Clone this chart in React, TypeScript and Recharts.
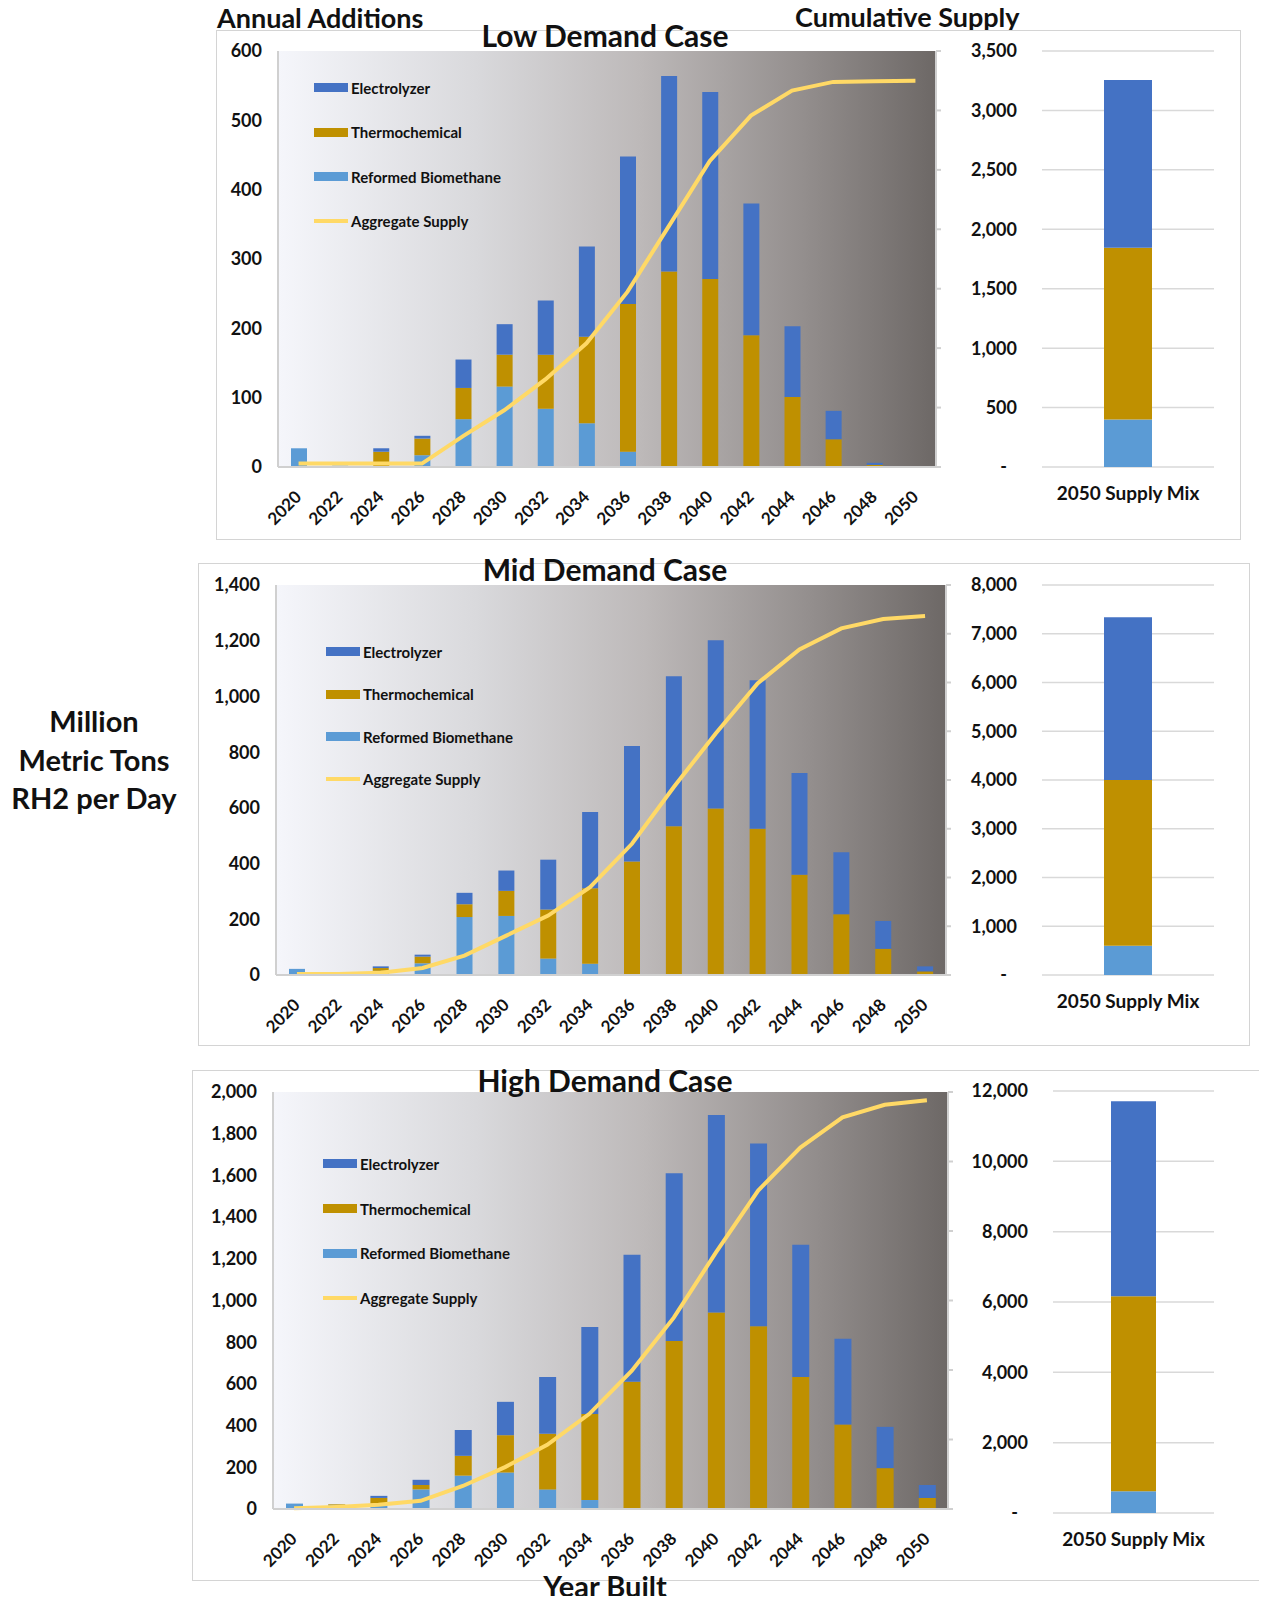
import React from "react";
import {
  ComposedChart,
  BarChart,
  Bar,
  Line,
  XAxis,
  YAxis,
  CartesianGrid,
  Legend
} from "recharts";

const years = [
  "2020", "2022", "2024", "2026", "2028", "2030", "2032", "2034",
  "2036", "2038", "2040", "2042", "2044", "2046", "2048", "2050"
];

// Low demand case - annual additions
const lowBio = [27, 2, 0, 17, 69, 116, 84, 63, 22, 0, 0, 0, 0, 0, 0, 0];
const lowThermo = [0, 0, 22, 24, 45, 46, 78, 125, 213, 282, 271, 190, 101, 40, 3, 0];
const lowElec = [0, 0, 5, 4, 41, 44, 78, 130, 213, 282, 270, 190, 102, 41, 3, 0];
const lowAggregate = [29, 29, 29, 29, 260, 477, 737, 1041, 1475, 2025, 2575, 2956, 3167, 3240, 3245, 3250];

// Mid demand case
const midBio = [22, 1, 15, 42, 208, 212, 59, 40, 0, 0, 0, 0, 0, 0, 0, 0];
const midThermo = [0, 0, 10, 24, 46, 90, 176, 271, 407, 534, 598, 525, 360, 218, 94, 13];
const midElec = [0, 0, 6, 7, 41, 73, 179, 274, 415, 538, 604, 533, 365, 223, 100, 18];
const midAggregate = [20, 20, 48, 144, 397, 808, 1219, 1801, 2692, 3857, 4954, 5981, 6680, 7111, 7303, 7366];

// High demand case
const highBio = [26, 20, 25, 94, 160, 175, 94, 43, 0, 0, 0, 0, 0, 0, 0, 0];
const highThermo = [0, 3, 28, 21, 95, 179, 267, 413, 610, 806, 942, 876, 633, 405, 196, 53];
const highElec = [0, 0, 10, 25, 124, 160, 272, 417, 609, 804, 948, 877, 634, 412, 198, 62];
const highAggregate = [20, 59, 119, 237, 662, 1206, 1848, 2738, 3974, 5506, 7384, 9163, 10399, 11268, 11634, 11763];

// 2050 cumulative mix (low, mid, high)
const mixLabel = "2050 Supply Mix";
const mixBio = [400, 600, 620];
const mixThermo = [1445, 3400, 5540];
const mixElec = [1410, 3340, 5550];

// axis ticks
const lowTicks = [0, 100, 200, 300, 400, 500, 600];
const lowCumTicks = [0, 500, 1000, 1500, 2000, 2500, 3000, 3500];
const midTicks = [0, 200, 400, 600, 800, 1000, 1200, 1400];
const midCumTicks = [0, 1000, 2000, 3000, 4000, 5000, 6000, 7000, 8000];
const highTicks = [0, 200, 400, 600, 800, 1000, 1200, 1400, 1600, 1800, 2000];
const highCumTicks = [0, 2000, 4000, 6000, 8000, 10000, 12000];

const ELEC = "#4472C4";
const THERMO = "#BF9000";
const BIO = "#5B9BD5";
const AGG = "#FFD966";
const FONT = "Lato, 'Open Sans', sans-serif";
const INK = "#111";

const fmt = (v: number) => v.toLocaleString("en-US");

function rows(bio: number[], thermo: number[], elec: number[], agg: number[]) {
  return years.map((year, i) => ({
    year,
    bio: bio[i],
    thermo: thermo[i],
    elec: elec[i],
    aggregate: agg[i]
  }));
}

const legendItems = [
  { label: "Electrolyzer", color: ELEC, line: false },
  { label: "Thermochemical", color: THERMO, line: false },
  { label: "Reformed Biomethane", color: BIO, line: false },
  { label: "Aggregate Supply", color: AGG, line: true }
];

function YearTick(props: any) {
  const { x, y, payload } = props;
  const ax = x + 4;
  const ay = y + 31;
  return (
    <text
      x={ax}
      y={ay}
      transform={`rotate(-45 ${ax} ${ay})`}
      textAnchor="end"
      fontSize={17}
      fontWeight={700}
      fill={INK}
      fontFamily={FONT}
    >
      {payload.value}
    </text>
  );
}

function MixXTick(props: any) {
  const { x, y, payload } = props;
  return (
    <text x={x} y={y + 33} textAnchor="middle" fontSize={19} fontWeight={700} fill={INK} fontFamily={FONT}>
      {payload.value}
    </text>
  );
}

function MixYTick(props: any) {
  const { x, y, payload } = props;
  const v = payload.value;
  return (
    <text x={v === 0 ? x - 10 : x} y={y} dy="0.36em" textAnchor="end" fontSize={18} fontWeight={700} fill={INK} fontFamily={FONT}>
      {v === 0 ? "-" : fmt(v)}
    </text>
  );
}

type Rect = { left: number; right: number; top: number; bottom: number };

type PanelProps = {
  id: string;
  title: string;
  titleY: number;
  data: any[];
  ticks: number[];
  cumTicks: number[];
  plot: Rect;
  barSize: number;
  legend: { x: number; y: number; gap: number };
  side: Rect & { barSize: number };
  mixIndex: number;
  box: { left: number; top: number; width: number; height: number; noRight?: boolean };
};

const Y_W = 70;
const R_W = 10;
const TOP_PAD = 20;
const X_H = 70;

function MainPanel(p: PanelProps) {
  const plotW = p.plot.right - p.plot.left;
  const plotH = p.plot.bottom - p.plot.top;
  const chartLeft = p.plot.left - Y_W;
  const chartTop = p.plot.top - TOP_PAD;
  const width = Y_W + plotW + R_W;
  const height = TOP_PAD + plotH + X_H;
  const leftMax = p.ticks[p.ticks.length - 1];
  const rightMax = p.cumTicks[p.cumTicks.length - 1];

  const renderLegend = () => (
    <div style={{ fontFamily: FONT }}>
      {legendItems.map((it) => (
        <div key={it.label} style={{ height: p.legend.gap, display: "flex", alignItems: "center" }}>
          <div
            style={{
              width: 34,
              height: it.line ? 4 : 9,
              background: it.color,
              marginRight: 3
            }}
          />
          <span style={{ fontSize: 15, fontWeight: 700, color: INK }}>{it.label}</span>
        </div>
      ))}
    </div>
  );

  const sideW = p.side.right - p.side.left;
  const sideH = p.side.bottom - p.side.top;
  const SIDE_Y = 90;
  const mixData = [
    {
      name: mixLabel,
      bio: mixBio[p.mixIndex],
      thermo: mixThermo[p.mixIndex],
      elec: mixElec[p.mixIndex]
    }
  ];

  return (
    <>
      <div
        style={{
          position: "absolute",
          left: p.box.left,
          top: p.box.top,
          width: p.box.width,
          height: p.box.height,
          borderTop: "1px solid #d4d4d4",
          borderBottom: "1px solid #d4d4d4",
          borderLeft: "1px solid #d4d4d4",
          borderRight: p.box.noRight ? "none" : "1px solid #d4d4d4",
          boxSizing: "border-box"
        }}
      />

      <div style={{ position: "absolute", left: chartLeft, top: chartTop }}>
        <ComposedChart
          width={width}
          height={height}
          data={p.data}
          margin={{ top: TOP_PAD, right: 0, bottom: 0, left: 0 }}
          barCategoryGap="60%"
        >
          <defs>
            <linearGradient id={`bg-${p.id}`} x1="0" y1="0" x2="1" y2="0">
              <stop offset="0%" stopColor="#f5f6fb" />
              <stop offset="30%" stopColor="#d9d9dc" />
              <stop offset="55%" stopColor="#bdb9b9" />
              <stop offset="80%" stopColor="#938e8d" />
              <stop offset="100%" stopColor="#6d6866" />
            </linearGradient>
          </defs>
          <CartesianGrid
            yAxisId="left"
            horizontal={false}
            vertical={false}
            fill={`url(#bg-${p.id})`}
            fillOpacity={1}
          />
          <XAxis
            dataKey="year"
            interval={0}
            height={X_H}
            tickLine={false}
            tickSize={0}
            tickMargin={0}
            axisLine={{ stroke: "#d0d0d0", strokeWidth: 2 }}
            tick={<YearTick />}
          />
          <YAxis
            yAxisId="left"
            width={Y_W}
            domain={[0, leftMax]}
            ticks={p.ticks}
            interval={0}
            tickFormatter={fmt}
            tickLine={false}
            tickSize={0}
            tickMargin={16}
            axisLine={{ stroke: "#d0d0d0", strokeWidth: 2 }}
            tick={{ fontSize: 18, fontWeight: 700, fill: INK, fontFamily: FONT }}
          />
          <YAxis
            yAxisId="right"
            orientation="right"
            width={R_W}
            domain={[0, rightMax]}
            ticks={p.cumTicks}
            interval={0}
            tickFormatter={() => ""}
            tickSize={5}
            tickLine={{ stroke: "#d0d0d0", strokeWidth: 2 }}
            axisLine={{ stroke: "#d0d0d0", strokeWidth: 2 }}
          />
          <Legend
            layout="vertical"
            align="center"
            verticalAlign="middle"
            content={renderLegend}
            wrapperStyle={{
              left: p.legend.x - chartLeft,
              top: p.legend.y - p.legend.gap / 2 - chartTop,
              width: 230
            }}
          />
          <Bar yAxisId="left" dataKey="bio" stackId="a" fill={BIO} barSize={p.barSize} isAnimationActive={false} />
          <Bar yAxisId="left" dataKey="thermo" stackId="a" fill={THERMO} barSize={p.barSize} isAnimationActive={false} />
          <Bar yAxisId="left" dataKey="elec" stackId="a" fill={ELEC} barSize={p.barSize} isAnimationActive={false} />
          <Line
            yAxisId="right"
            type="linear"
            dataKey="aggregate"
            stroke={AGG}
            strokeWidth={4}
            dot={false}
            isAnimationActive={false}
          />
        </ComposedChart>
      </div>

      <div style={{ position: "absolute", left: p.side.left - SIDE_Y, top: p.side.top - TOP_PAD }}>
        <BarChart
          width={SIDE_Y + sideW}
          height={TOP_PAD + sideH + 50}
          data={mixData}
          margin={{ top: TOP_PAD, right: 0, bottom: 0, left: 0 }}
        >
          <CartesianGrid vertical={false} stroke="#d9d9d9" strokeWidth={1.5} />
          <XAxis
            dataKey="name"
            height={50}
            axisLine={false}
            tickLine={false}
            tickSize={0}
            tickMargin={0}
            tick={<MixXTick />}
          />
          <YAxis
            width={SIDE_Y}
            domain={[0, p.cumTicks[p.cumTicks.length - 1]]}
            ticks={p.cumTicks}
            interval={0}
            axisLine={false}
            tickLine={false}
            tickSize={0}
            tickMargin={25}
            tick={<MixYTick />}
          />
          <Bar dataKey="bio" stackId="m" fill={BIO} barSize={p.side.barSize} isAnimationActive={false} />
          <Bar dataKey="thermo" stackId="m" fill={THERMO} barSize={p.side.barSize} isAnimationActive={false} />
          <Bar dataKey="elec" stackId="m" fill={ELEC} barSize={p.side.barSize} isAnimationActive={false} />
        </BarChart>
      </div>

      <div
        style={{
          position: "absolute",
          left: 0,
          width: 1210,
          top: p.titleY - 18,
          textAlign: "center",
          fontSize: 30,
          fontWeight: 700,
          lineHeight: "36px",
          color: INK
        }}
      >
        {p.title}
      </div>
    </>
  );
}

export default function App() {
  return (
    <div
      style={{
        position: "relative",
        width: 1267,
        height: 1604,
        margin: -8,
        overflow: "hidden",
        background: "#fff",
        fontFamily: FONT,
        color: INK
      }}
    >
      <div style={{ position: "absolute", left: 217, top: 2, fontSize: 27, fontWeight: 700, lineHeight: "32px" }}>
        Annual Additions
      </div>
      <div style={{ position: "absolute", left: 795, top: 1, fontSize: 27, fontWeight: 700, lineHeight: "32px" }}>
        Cumulative Supply
      </div>
      <div
        style={{
          position: "absolute",
          left: 0,
          width: 188,
          top: 702,
          textAlign: "center",
          fontSize: 29,
          fontWeight: 700,
          lineHeight: "38.5px"
        }}
      >
        Million
        <br />
        Metric Tons
        <br />
        RH2 per Day
      </div>

      <MainPanel
        id="low"
        title="Low Demand Case"
        titleY={35}
        data={rows(lowBio, lowThermo, lowElec, lowAggregate)}
        ticks={lowTicks}
        cumTicks={lowCumTicks}
        plot={{ left: 278, right: 936, top: 51, bottom: 467 }}
        barSize={16}
        legend={{ x: 314, y: 88, gap: 44.3 }}
        side={{ left: 1042, right: 1214, top: 51, bottom: 467, barSize: 48 }}
        mixIndex={0}
        box={{ left: 216, top: 30, width: 1025, height: 510 }}
      />
      <MainPanel
        id="mid"
        title="Mid Demand Case"
        titleY={569}
        data={rows(midBio, midThermo, midElec, midAggregate)}
        ticks={midTicks}
        cumTicks={midCumTicks}
        plot={{ left: 276, right: 946, top: 585, bottom: 975 }}
        barSize={16}
        legend={{ x: 326, y: 652, gap: 42.3 }}
        side={{ left: 1042, right: 1214, top: 585, bottom: 975, barSize: 48 }}
        mixIndex={1}
        box={{ left: 198, top: 563, width: 1052, height: 483 }}
      />
      <MainPanel
        id="high"
        title="High Demand Case"
        titleY={1080}
        data={rows(highBio, highThermo, highElec, highAggregate)}
        ticks={highTicks}
        cumTicks={highCumTicks}
        plot={{ left: 273, right: 948, top: 1092, bottom: 1509 }}
        barSize={17}
        legend={{ x: 323, y: 1164, gap: 44.7 }}
        side={{ left: 1053, right: 1214, top: 1091, bottom: 1513, barSize: 45 }}
        mixIndex={2}
        box={{ left: 192, top: 1070, width: 1100, height: 511, noRight: true }}
      />

      <div
        style={{
          position: "absolute",
          left: 0,
          width: 1210,
          top: 1569,
          textAlign: "center",
          fontSize: 29,
          fontWeight: 700,
          lineHeight: "34px"
        }}
      >
        Year Built
      </div>
    </div>
  );
}
